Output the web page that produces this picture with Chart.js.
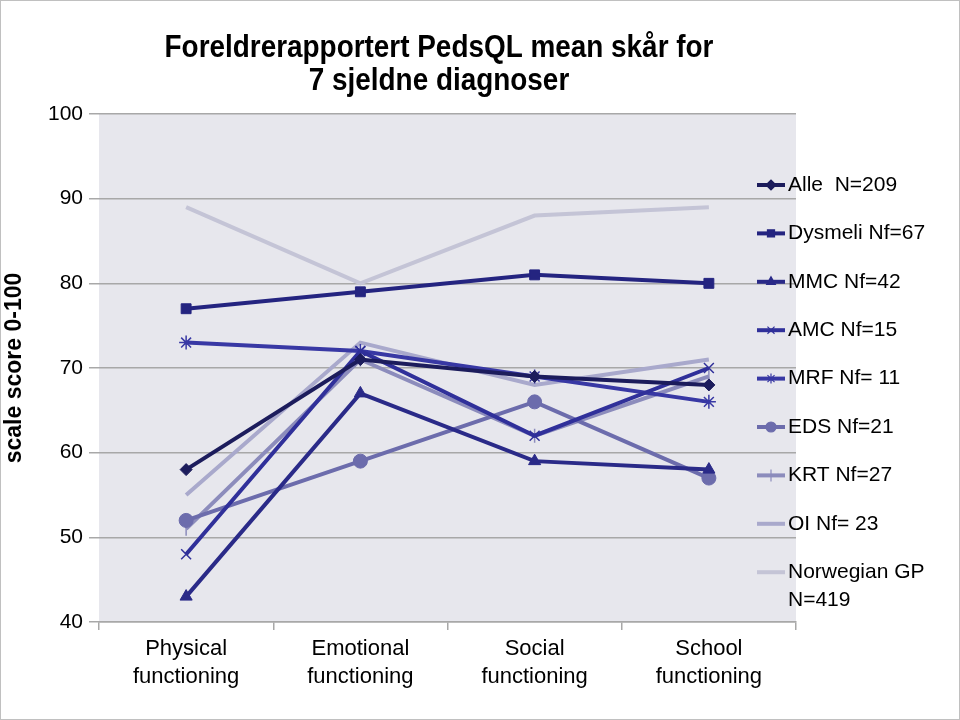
<!DOCTYPE html>
<html>
<head>
<meta charset="utf-8">
<script src="https://cdn.jsdelivr.net/npm/chart.js@4"></script>
<style>
  html, body { margin: 0; padding: 0; background: #fff; }
  #wrap { position: relative; width: 958px; height: 718px; border: 1px solid #c0c0c0; }
</style>
</head>
<body>
<div id="wrap"><canvas id="chart" width="958" height="718"></canvas></div>
<script>
// kategorier og verdier lest av bildet
const categories = [['Physical', 'functioning'], ['Emotional', 'functioning'], ['Social', 'functioning'], ['School', 'functioning']];
const seriesNames = ['Alle  N=209', 'Dysmeli Nf=67', 'MMC Nf=42', 'AMC Nf=15', 'MRF Nf= 11', 'EDS Nf=21', 'KRT Nf=27', 'OI Nf= 23', ['Norwegian GP', 'N=419']];
const alle = [58, 71, 69, 68];
const dysmeli = [77, 79, 81, 80];
const mmc = [43, 67, 59, 58];
const amc = [48, 72, 62, 70];
const mrf = [73, 72, 69, 66];
const eds = [52, 59, 66, 57];
const krt = [51, 71, 62, 69];
const oi = [55, 73, 68, 71];
const norwegianGP = [89, 80, 88, 89];
const yTicks = [40, 50, 60, 70, 80, 90, 100];

const values = [alle, dysmeli, mmc, amc, mrf, eds, krt, oi, norwegianGP];
const colors = ['#1c1c5c', '#242480', '#2a2a88', '#30309a', '#3838a4', '#6c6cac', '#8c8cbc', '#a9a9cc', '#c4c4d6'];
const styles = ['rectRot', 'rect', 'triangle', 'crossRot', 'star', 'circle', 'line', false, false];
const radii = [6, 7, 7, 7, 7, 7, 7, 0, 0];

const FONT = "'Liberation Sans', Arial, sans-serif";

// grå bakgrunn i plottet
const plotBg = {
  id: 'plotBg',
  beforeDraw(chart) {
    const a = chart.chartArea, ctx = chart.ctx;
    ctx.save();
    ctx.fillStyle = '#e7e7ed';
    ctx.fillRect(a.left, a.top, a.right - a.left, a.bottom - a.top);
    ctx.restore();
  }
};

// tittel og forklaring tegnet selv
const extras = {
  id: 'extras',
  afterDraw(chart) {
    const ctx = chart.ctx;
    ctx.save();
    ctx.fillStyle = '#000';
    ctx.textAlign = 'center';
    ctx.textBaseline = 'middle';
    // smal skrift som i originalen
    ctx.save();
    ctx.translate(438, 0);
    ctx.scale(0.9, 1);
    ctx.font = "bold 31px 'Liberation Sans Narrow', 'Liberation Sans', sans-serif";
    ctx.fillText('Foreldrerapportert PedsQL mean skår for', 0, 47);
    ctx.fillText('7 sjeldne diagnoser', 0, 80);
    ctx.restore();

    ctx.textAlign = 'left';
    ctx.font = '21px ' + FONT;
    chart.data.datasets.forEach((ds, i) => {
      const y = 184 + i * 48.4;
      ctx.strokeStyle = ds.borderColor;
      ctx.lineWidth = 4;
      ctx.beginPath();
      ctx.moveTo(756, y);
      ctx.lineTo(784, y);
      ctx.stroke();
      if (ds.pointStyle) {
        ctx.fillStyle = ds.borderColor;
        ctx.lineWidth = 1.2;
        Chart.helpers.drawPoint(ctx, {
          pointStyle: ds.pointStyle,
          radius: ds.pointStyle === 'line' ? 6 : 5,
          borderWidth: 1.2,
          rotation: ds.pointStyle === 'line' ? 90 : 0
        }, 770, y);
      }
      ctx.fillStyle = '#000';
      const label = seriesNames[i];
      if (Array.isArray(label)) {
        label.forEach((t, k) => ctx.fillText(t, 787, y + k * 28));
      } else {
        ctx.fillText(label, 787, y);
      }
    });
    ctx.restore();
  }
};

const ctx = document.getElementById('chart').getContext('2d');

new Chart(ctx, {
  type: 'line',
  data: {
    labels: categories,
    datasets: values.map((v, i) => ({
      label: Array.isArray(seriesNames[i]) ? seriesNames[i].join(' ') : seriesNames[i],
      data: v,
      borderColor: colors[i],
      backgroundColor: colors[i],
      borderWidth: 4,
      pointStyle: styles[i],
      pointRadius: radii[i],
      pointRotation: styles[i] === 'line' ? 90 : 0,
      pointBorderWidth: (styles[i] === 'crossRot' || styles[i] === 'star' || styles[i] === 'line') ? 1.5 : 1,
      pointBackgroundColor: colors[i],
      pointBorderColor: colors[i],
      tension: 0,
      fill: false
    }))
  },
  options: {
    responsive: false,
    animation: false,
    layout: { padding: { top: 113, right: 163, left: 0, bottom: 0 } },
    plugins: {
      legend: { display: false },
      tooltip: { enabled: false }
    },
    scales: {
      x: {
        offset: true,
        grid: {
          offset: true,
          drawOnChartArea: false,
          color: '#a8a8a8',
          lineWidth: 1.5,
          tickLength: 8
        },
        border: { color: '#a8a8a8', width: 1.5 },
        ticks: {
          color: '#000',
          font: { family: FONT, size: 22, lineHeight: 1.27 },
          maxRotation: 0,
          padding: 5
        },
        afterFit(scale) { scale.height = 97; }
      },
      y: {
        min: 40,
        max: 100,
        afterBuildTicks(scale) { scale.ticks = yTicks.map(v => ({ value: v })); },
        grid: {
          color: '#a8a8a8',
          lineWidth: 1.5,
          tickLength: 10
        },
        border: { display: false },
        ticks: {
          color: '#000',
          font: { family: FONT, size: 21 },
          padding: 6
        },
        title: {
          display: true,
          text: 'scale score 0-100',
          color: '#000',
          font: { family: FONT, size: 23, weight: 'bold' },
          padding: 0
        },
        afterFit(scale) { scale.width = 98; }
      }
    }
  },
  plugins: [plotBg, extras]
});
</script>
</body>
</html>
